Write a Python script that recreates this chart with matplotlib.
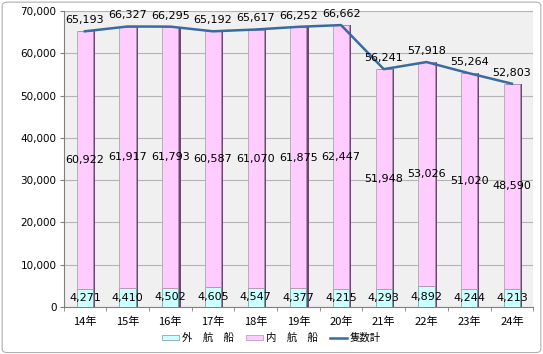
import matplotlib
matplotlib.use("Agg")
import matplotlib.pyplot as plt
from matplotlib.patches import FancyBboxPatch
import numpy as np

plt.rcParams['font.family'] = ['Noto Sans CJK JP', 'DejaVu Sans']

years = ['14年', '15年', '16年', '17年', '18年', '19年', '20年', '21年', '22年', '23年', '24年']
gaiko = [4271, 4410, 4502, 4605, 4547, 4377, 4215, 4293, 4892, 4244, 4213]
naiko = [60922, 61917, 61793, 60587, 61070, 61875, 62447, 51948, 53026, 51020, 48590]
total = [65193, 66327, 66295, 65192, 65617, 66252, 66662, 56241, 57918, 55264, 52803]

fig = plt.figure(figsize=(5.43, 3.54), dpi=100)
border = FancyBboxPatch((0.004, 0.004), 0.992, 0.99, boxstyle="round,pad=0,rounding_size=0.01",
                        transform=fig.transFigure, fill=False, edgecolor='#b0b0b0', linewidth=0.8)
fig.patches.append(border)

ax = fig.add_axes([0.117, 0.133, 0.865, 0.836])
ax.set_facecolor('#f0f0f0')

x = np.arange(len(years))
w = 0.38
# shadow on the right side of the bars
ax.bar(x + 0.05, np.array(gaiko) + np.array(naiko), w, color='#6a4a6a', zorder=2)
b1 = ax.bar(x, gaiko, w, color='#ccffff', edgecolor='#6a9a9a', linewidth=0.5, zorder=3)
b2 = ax.bar(x, naiko, w, bottom=gaiko, color='#ffccff', edgecolor='#b090b0', linewidth=0.5, zorder=3)
ln, = ax.plot(x, total, color='#3a6aa0', linewidth=1.8, zorder=4)

for i in range(len(years)):
    ax.text(x[i], gaiko[i] / 2, f'{gaiko[i]:,}', ha='center', va='center', fontsize=8, zorder=5,
            family=['DejaVu Sans'])
    ax.text(x[i], gaiko[i] + naiko[i] / 2, f'{naiko[i]:,}', ha='center', va='center', fontsize=8,
            zorder=5, family=['DejaVu Sans'])
    ax.annotate(f'{total[i]:,}', (x[i], total[i]), xytext=(0, 8), textcoords='offset points',
                ha='center', va='center', fontsize=8, zorder=5, family=['DejaVu Sans'])

ax.set_ylim(0, 70000)
ax.set_xlim(-0.5, len(years) - 0.5)
ax.set_yticks(range(0, 70001, 10000))
ax.set_yticklabels([f'{v:,}' for v in range(0, 70001, 10000)], fontsize=7.5, family=['DejaVu Sans'])
ax.yaxis.grid(True, color='#b4b4b4', linewidth=0.8, zorder=0)
ax.set_axisbelow(True)

ax.set_xticks(x)
ax.set_xticklabels(years, fontsize=8)
ax.set_xticks(np.arange(-0.5, len(years)), minor=True)
ax.tick_params(axis='x', which='major', length=0, pad=7)
ax.tick_params(axis='x', which='minor', length=3, color='#808080')
ax.tick_params(axis='y', length=3, color='#808080', pad=2)
for s in ['top', 'right']:
    ax.spines[s].set_visible(False)
ax.spines['left'].set_color('#808080')
ax.spines['bottom'].set_color('#808080')

fig.legend([b1, b2, ln], ['外　航　船', '内　航　船', '隻数計'], loc='center',
           bbox_to_anchor=(0.5, 0.045), ncol=3, frameon=False, fontsize=7.5,
           handlelength=1.6, handleheight=0.5, columnspacing=1.2, handletextpad=0.3)

fig.savefig('out.png', dpi=100)
